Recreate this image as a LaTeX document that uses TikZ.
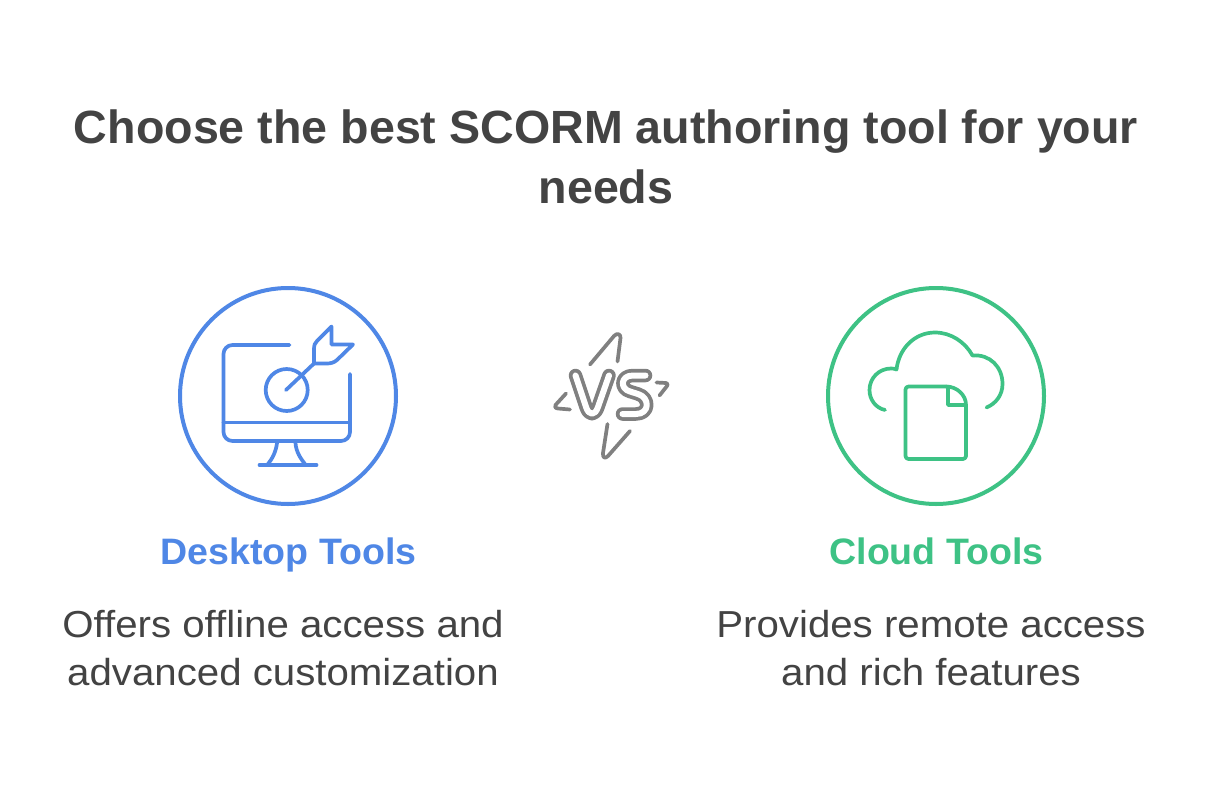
\documentclass[tikz,border=0pt]{standalone}
\usepackage{fontspec}
\setmainfont{Liberation Sans}
\newfontfamily\bodyfont[FakeStretch=1.07]{Liberation Sans}
\newfontfamily\headfont[FakeStretch=1.02,BoldFont={Liberation Sans Bold}]{Liberation Sans}
\definecolor{ink}{HTML}{434343}
\definecolor{bluec}{HTML}{4F87E6}
\definecolor{greenc}{HTML}{3EC285}
\definecolor{vsgray}{HTML}{808080}
\tikzset{
 ring/.style={circle,draw=#1,line width=4pt,minimum size=216pt,inner sep=0pt},
 icon/.style={draw=#1,line width=3.7pt,line cap=round,line join=round},
 title/.style={text=ink,font=\fontsize{46.6}{60}\selectfont\bfseries,align=center,inner sep=0pt},
 head/.style={anchor=base,font=\headfont\fontsize{36.8}{44}\selectfont\bfseries,inner sep=0pt},
 body/.style={text=ink,font=\bodyfont\fontsize{37.6}{48}\selectfont,align=center,inner sep=0pt},
 vsline/.style={line width=#1,line cap=round,line join=round}
}
\begin{document}
\begin{tikzpicture}[x=1pt,y=-1pt]
\useasboundingbox (0,0) rectangle (1212,792);
\fill[white] (0,0) rectangle (1212,792);
\node[title] (t) at (606,157) {Choose the best SCORM authoring tool for your\\needs};
\node[ring=bluec] (c1) at (288,396) {};
\node[ring=greenc] (c2) at (936,396) {};
% monitor
\draw[icon=bluec,rounded corners=9pt] (289.5,345) -- (223.5,345) -- (223.5,441) -- (350,441) -- (350,374);
\draw[icon=bluec] (223.5,422.5) -- (350,422.5);
\draw[icon=bluec] (277,443) .. controls (276,452) and (272,459) .. (268,464);
\draw[icon=bluec] (295.5,443) .. controls (296,452) and (301,459) .. (305,464);
\draw[icon=bluec] (259.5,465) -- (316.5,465);
\draw[icon=bluec] (286.7,390) circle (21pt);
\draw[icon=bluec] (286,390) -- (314,363.5);
\draw[icon=bluec] (314,363.5) -- (314,349) .. controls (314,345) and (315,343) .. (317,341) -- (331.5,326.5) -- (331.5,344.5) -- (353,344.5) -- (337,360) .. controls (334,362.5) and (331,363.5) .. (327,363.5) -- cycle;
% cloud
\draw[icon=greenc] (885,410) .. controls (876,408) and (869.5,400) .. (869.5,390) .. controls (869.5,378) and (879,368.5) .. (891,368.5) .. controls (893,368.5) and (895,368.7) .. (896.5,369.5)
 .. controls (899,348) and (915,332.5) .. (935,332.5) .. controls (951,332.5) and (965,342) .. (972.5,355.5)
 .. controls (990,354) and (1002.5,367) .. (1002.5,384) .. controls (1002.5,395) and (996,403.5) .. (986.5,407.5);
\draw[icon=greenc,rounded corners=3pt] (946,386.5) -- (905.5,386.5) -- (905.5,459) -- (966,459) -- (966,405);
\draw[icon=greenc] (946,386.5) .. controls (957,386.5) and (966,395) .. (966,405) -- (948,405) -- (948,386.5);
% VS
\draw[icon=vsgray] (590,364.5) -- (614,336) .. controls (617,332.5) and (621,334) .. (620.5,338) -- (617.5,361.5);
\draw[icon=vsgray] (607.5,424) -- (603,453) .. controls (602.5,458) and (605,459) .. (608,456) -- (630,431);
\draw[icon=vsgray] (566,393.5) -- (555.5,405) .. controls (554.5,407) and (555,408) .. (558,408.5) -- (570,409.5);
\draw[icon=vsgray] (656.5,382.5) -- (666,383) .. controls (668,383.5) and (668,384.5) .. (667,386) -- (659.5,395.5);
\foreach \w/\c in {13.5pt/vsgray,6pt/white}{
 \draw[vsline=\w,draw=\c] (575.5,375.5) -- (586,407) .. controls (589,416) and (595,416) .. (598,407) -- (609,375.5);
 \draw[vsline=\w,draw=\c] (645.5,375.5) -- (633,375.5) .. controls (620,375.5) and (620,389) .. (630,391.5) -- (638,394) .. controls (650,397.5) and (650,414) .. (636,414) -- (622.5,414);
}
\node[head,text=bluec] (h1) at (288.5,564) {Desktop Tools};
\node[head,text=greenc] (h2) at (936.5,564) {Cloud Tools};
\node[body] (b1) at (283,648) {Offers offline access and\\advanced customization};
\node[body] (b2) at (931,648) {Provides remote access\\and rich features};
\end{tikzpicture}
\end{document}
